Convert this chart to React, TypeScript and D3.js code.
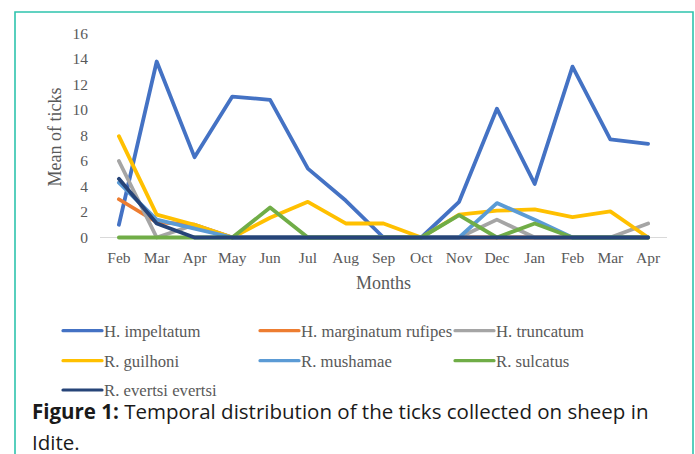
import React from "react";
import * as d3 from "d3";

const months = ["Feb", "Mar", "Apr", "May", "Jun", "Jul", "Aug", "Sep", "Oct", "Nov", "Dec", "Jan", "Feb", "Mar", "Apr"];
const yTicks = [0, 2, 4, 6, 8, 10, 12, 14, 16];

const seriesNames = ["H. impeltatum", "H. marginatum rufipes", "H. truncatum", "R. guilhoni", "R. mushamae", "R. sulcatus", "R. evertsi evertsi"];
const seriesColors = ["#4472C4", "#ED7D31", "#A5A5A5", "#FFC000", "#5B9BD5", "#70AD47", "#264478"];

const impeltatum = [1.0, 13.8, 6.3, 11.05, 10.8, 5.4, 2.9, 0, 0, 2.8, 10.1, 4.2, 13.4, 7.7, 7.35];
const marginatum = [3.0, 1.2, 1.0, 0, 0, 0, 0, 0, 0, 0, 0, 0, 0, 0, 0];
const truncatum = [6.0, 0, 1.0, 0, 0, 0, 0, 0, 0, 0, 1.4, 0, 0, 0, 1.1];
const guilhoni = [7.95, 1.8, 1.0, 0, 1.55, 2.8, 1.1, 1.1, 0, 1.8, 2.1, 2.2, 1.6, 2.05, 0];
const mushamae = [4.3, 1.4, 0.7, 0, 0, 0, 0, 0, 0, 0, 2.7, 1.4, 0, 0, 0];
const sulcatus = [0, 0, 0, 0, 2.35, 0, 0, 0, 0, 1.75, 0, 1.1, 0, 0, 0];
const evertsi = [4.6, 1.1, 0, 0, 0, 0, 0, 0, 0, 0, 0, 0, 0, 0, 0];

const seriesValues = [impeltatum, marginatum, truncatum, guilhoni, mushamae, sulcatus, evertsi];

export default function App() {
  const W = 695, H = 454;
  const plotLeft = 100, plotRight = 667;
  const x = d3.scaleBand<number>().domain(months.map((_, i) => i)).range([plotLeft, plotRight]);
  const xc = (i: number) => (x(i) as number) + x.bandwidth() / 2;
  const y = d3.scaleLinear().domain([0, 16]).range([237.5, 33.5]);
  const line = d3.line<number>().x((_, i) => xc(i)).y((v) => y(v));

  const legendCols = [63, 260, 455];
  const legendRows = [330.7, 360.7, 390];
  const serif = "'Liberation Serif', 'Times New Roman', serif";
  const sans = "'Open Sans', 'Noto Sans', sans-serif";

  return (
    <svg width={W} height={H} style={{ position: "absolute", left: 0, top: 0, background: "#fff" }}>
      <rect x={0} y={0} width={W} height={H} fill="#fff" />
      {/* teal frame */}
      <path d={`M15,${H} V12 H693 V${H}`} fill="none" stroke="#2ec4ad" strokeWidth={1.6} />

      {/* y ticks */}
      {yTicks.map((t) => (
        <text key={t} x={88} y={y(t)} dy="0.35em" textAnchor="end" fontFamily={serif} fontSize={15.5} fill="#595959">
          {t}
        </text>
      ))}
      {/* axis line */}
      <line x1={plotLeft} x2={plotRight} y1={y(0)} y2={y(0)} stroke="#d9d9d9" strokeWidth={1} />

      {/* series */}
      {seriesValues.map((vals, k) => (
        <path key={k} d={line(vals) || ""} fill="none" stroke={seriesColors[k]} strokeWidth={3.8} strokeLinejoin="round" strokeLinecap="round" />
      ))}

      {/* x labels */}
      {months.map((m, i) => (
        <text key={i} x={xc(i)} y={258} dy="0.35em" textAnchor="middle" fontFamily={serif} fontSize={15.5} fill="#595959">
          {m}
        </text>
      ))}
      <text x={(plotLeft + plotRight) / 2} y={283} dy="0.35em" textAnchor="middle" fontFamily={serif} fontSize={18} fill="#595959">
        Months
      </text>
      <text transform={`translate(55,137) rotate(-90)`} textAnchor="middle" dy="0.35em" fontFamily={serif} fontSize={18} fill="#595959">
        Mean of ticks
      </text>

      {/* legend */}
      {seriesNames.map((n, k) => {
        const cx = legendCols[k % 3];
        const cy = legendRows[Math.floor(k / 3)];
        return (
          <g key={n}>
            <line x1={cx} x2={cx + 39} y1={cy} y2={cy} stroke={seriesColors[k]} strokeWidth={3.2} strokeLinecap="round" />
            <text x={cx + 41} y={cy} dy="0.35em" fontFamily={serif} fontSize={16.7} fill="#595959">
              {n}
            </text>
          </g>
        );
      })}

      {/* caption */}
      <text x={32} y={412} dy="0.35em" fontFamily={sans} fontSize={20.5} fill="#1a1a1a">
        <tspan fontWeight="bold">Figure 1:</tspan>
        <tspan> Temporal distribution of the ticks collected on sheep in</tspan>
      </text>
      <text x={32} y={443} dy="0.35em" fontFamily={sans} fontSize={20.5} fill="#1a1a1a">
        Idite.
      </text>
    </svg>
  );
}
